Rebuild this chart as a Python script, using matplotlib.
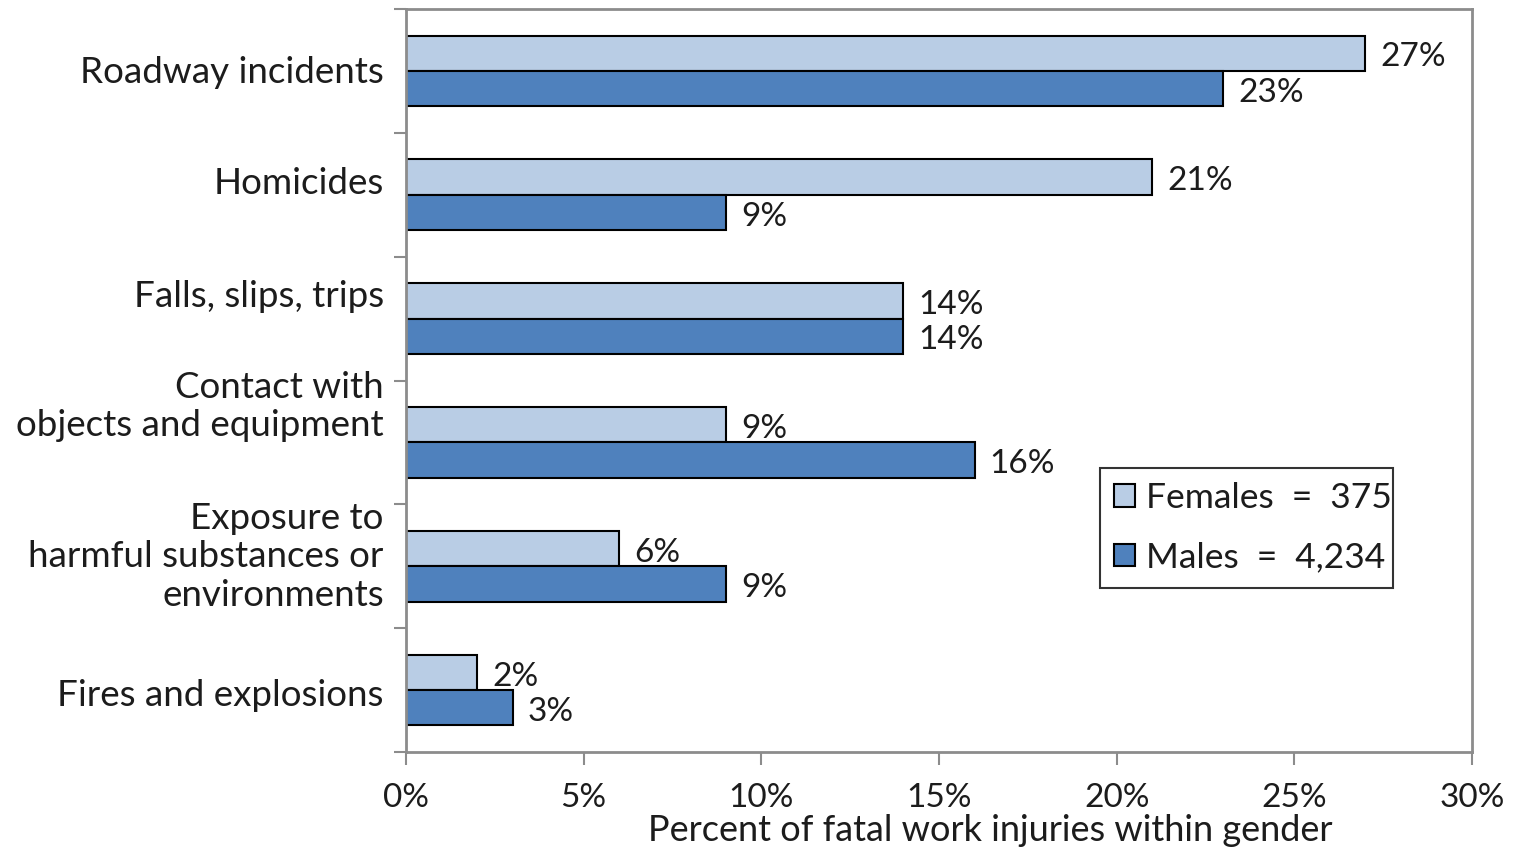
import matplotlib
matplotlib.use("Agg")
import matplotlib.pyplot as plt
import matplotlib.transforms as mtransforms
import numpy as np
from matplotlib import font_manager

# categories from top to bottom
categories = [
    "Roadway incidents",
    "Homicides",
    "Falls, slips, trips",
    "Contact with\nobjects and equipment",
    "Exposure to\nharmful substances or\nenvironments",
    "Fires and explosions",
]
females = [27, 21, 14, 9, 6, 2]
males = [23, 9, 14, 16, 9, 3]
female_label = "Females  =  375"
male_label = "Males  =  4,234"
x_ticks = [0, 5, 10, 15, 20, 25, 30]

names = {f.name for f in font_manager.fontManager.ttflist}
family = "Lato" if "Lato" in names else "DejaVu Sans"
plt.rcParams["font.family"] = family

light = "#B9CDE5"
dark = "#4F81BD"
grey = "#8C8C8C"
txt = "#1C1C1C"

fig = plt.figure(figsize=(15.14, 8.52), dpi=100)
ax = fig.add_axes([406 / 1514, 1 - 752 / 852, 1066 / 1514, 743 / 852])

y = np.arange(len(categories))
h = 0.285
fb = ax.barh(y - h / 2, females, height=h, color=light, edgecolor="black",
             linewidth=1.5, label=female_label)
mb = ax.barh(y + h / 2, males, height=h, color=dark, edgecolor="black",
             linewidth=1.5, label=male_label)

for bars, vals in ((fb, females), (mb, males)):
    for b, v in zip(bars, vals):
        ax.annotate(f"{v}%", (v, b.get_y() + b.get_height() / 2),
                    xytext=(11, -3), textcoords="offset points",
                    va="center", ha="left", fontsize=24, color=txt)

ax.set_xlim(0, 30)
ax.set_ylim(len(categories) - 0.5, -0.5)
ax.set_xticks(x_ticks)
ax.set_xticklabels([f"{t}%" for t in x_ticks], fontsize=24, color=txt)

# group boundaries carry the tick marks, labels sit at the group centres
ax.set_yticks(np.arange(len(categories) + 1) - 0.5)
ax.set_yticklabels([])
ax.set_yticks(y, minor=True)
ax.set_yticklabels(categories, minor=True, fontsize=26.5, color=txt,
                   linespacing=1.2)
ax.tick_params(axis="y", which="minor", length=0, pad=16)
ax.tick_params(axis="y", which="major", length=9, width=1.5, color=grey)
ax.tick_params(axis="x", length=9, width=1.5, color=grey, pad=13)

shifts = [1, 10, 18, 30, 11, -2]
for lab, s in zip(ax.get_yticklabels(minor=True), shifts):
    lab.set_transform(lab.get_transform() +
                      mtransforms.ScaledTranslation(0, s / 72, fig.dpi_scale_trans))

for sp in ax.spines.values():
    sp.set_color(grey)
    sp.set_linewidth(2)

ax.set_xlabel("Percent of fatal work injuries within gender", fontsize=26,
              color=txt, labelpad=0)
ax.xaxis.set_label_coords(0.548, -0.106)
ax.xaxis.label.set_va("center")

leg = ax.legend(loc="lower left", bbox_to_anchor=(0.651, 0.221, 0.275, 0.163),
                mode="expand", fontsize=25.5, frameon=True, fancybox=False,
                handlelength=0.6, handleheight=0.6, handletextpad=0.3,
                labelspacing=0.78, borderpad=0.4, borderaxespad=0)
leg.get_frame().set_edgecolor("black")
leg.get_frame().set_linewidth(1.5)
for t in leg.get_texts():
    t.set_color(txt)

fig.savefig("out.png", dpi=100)
